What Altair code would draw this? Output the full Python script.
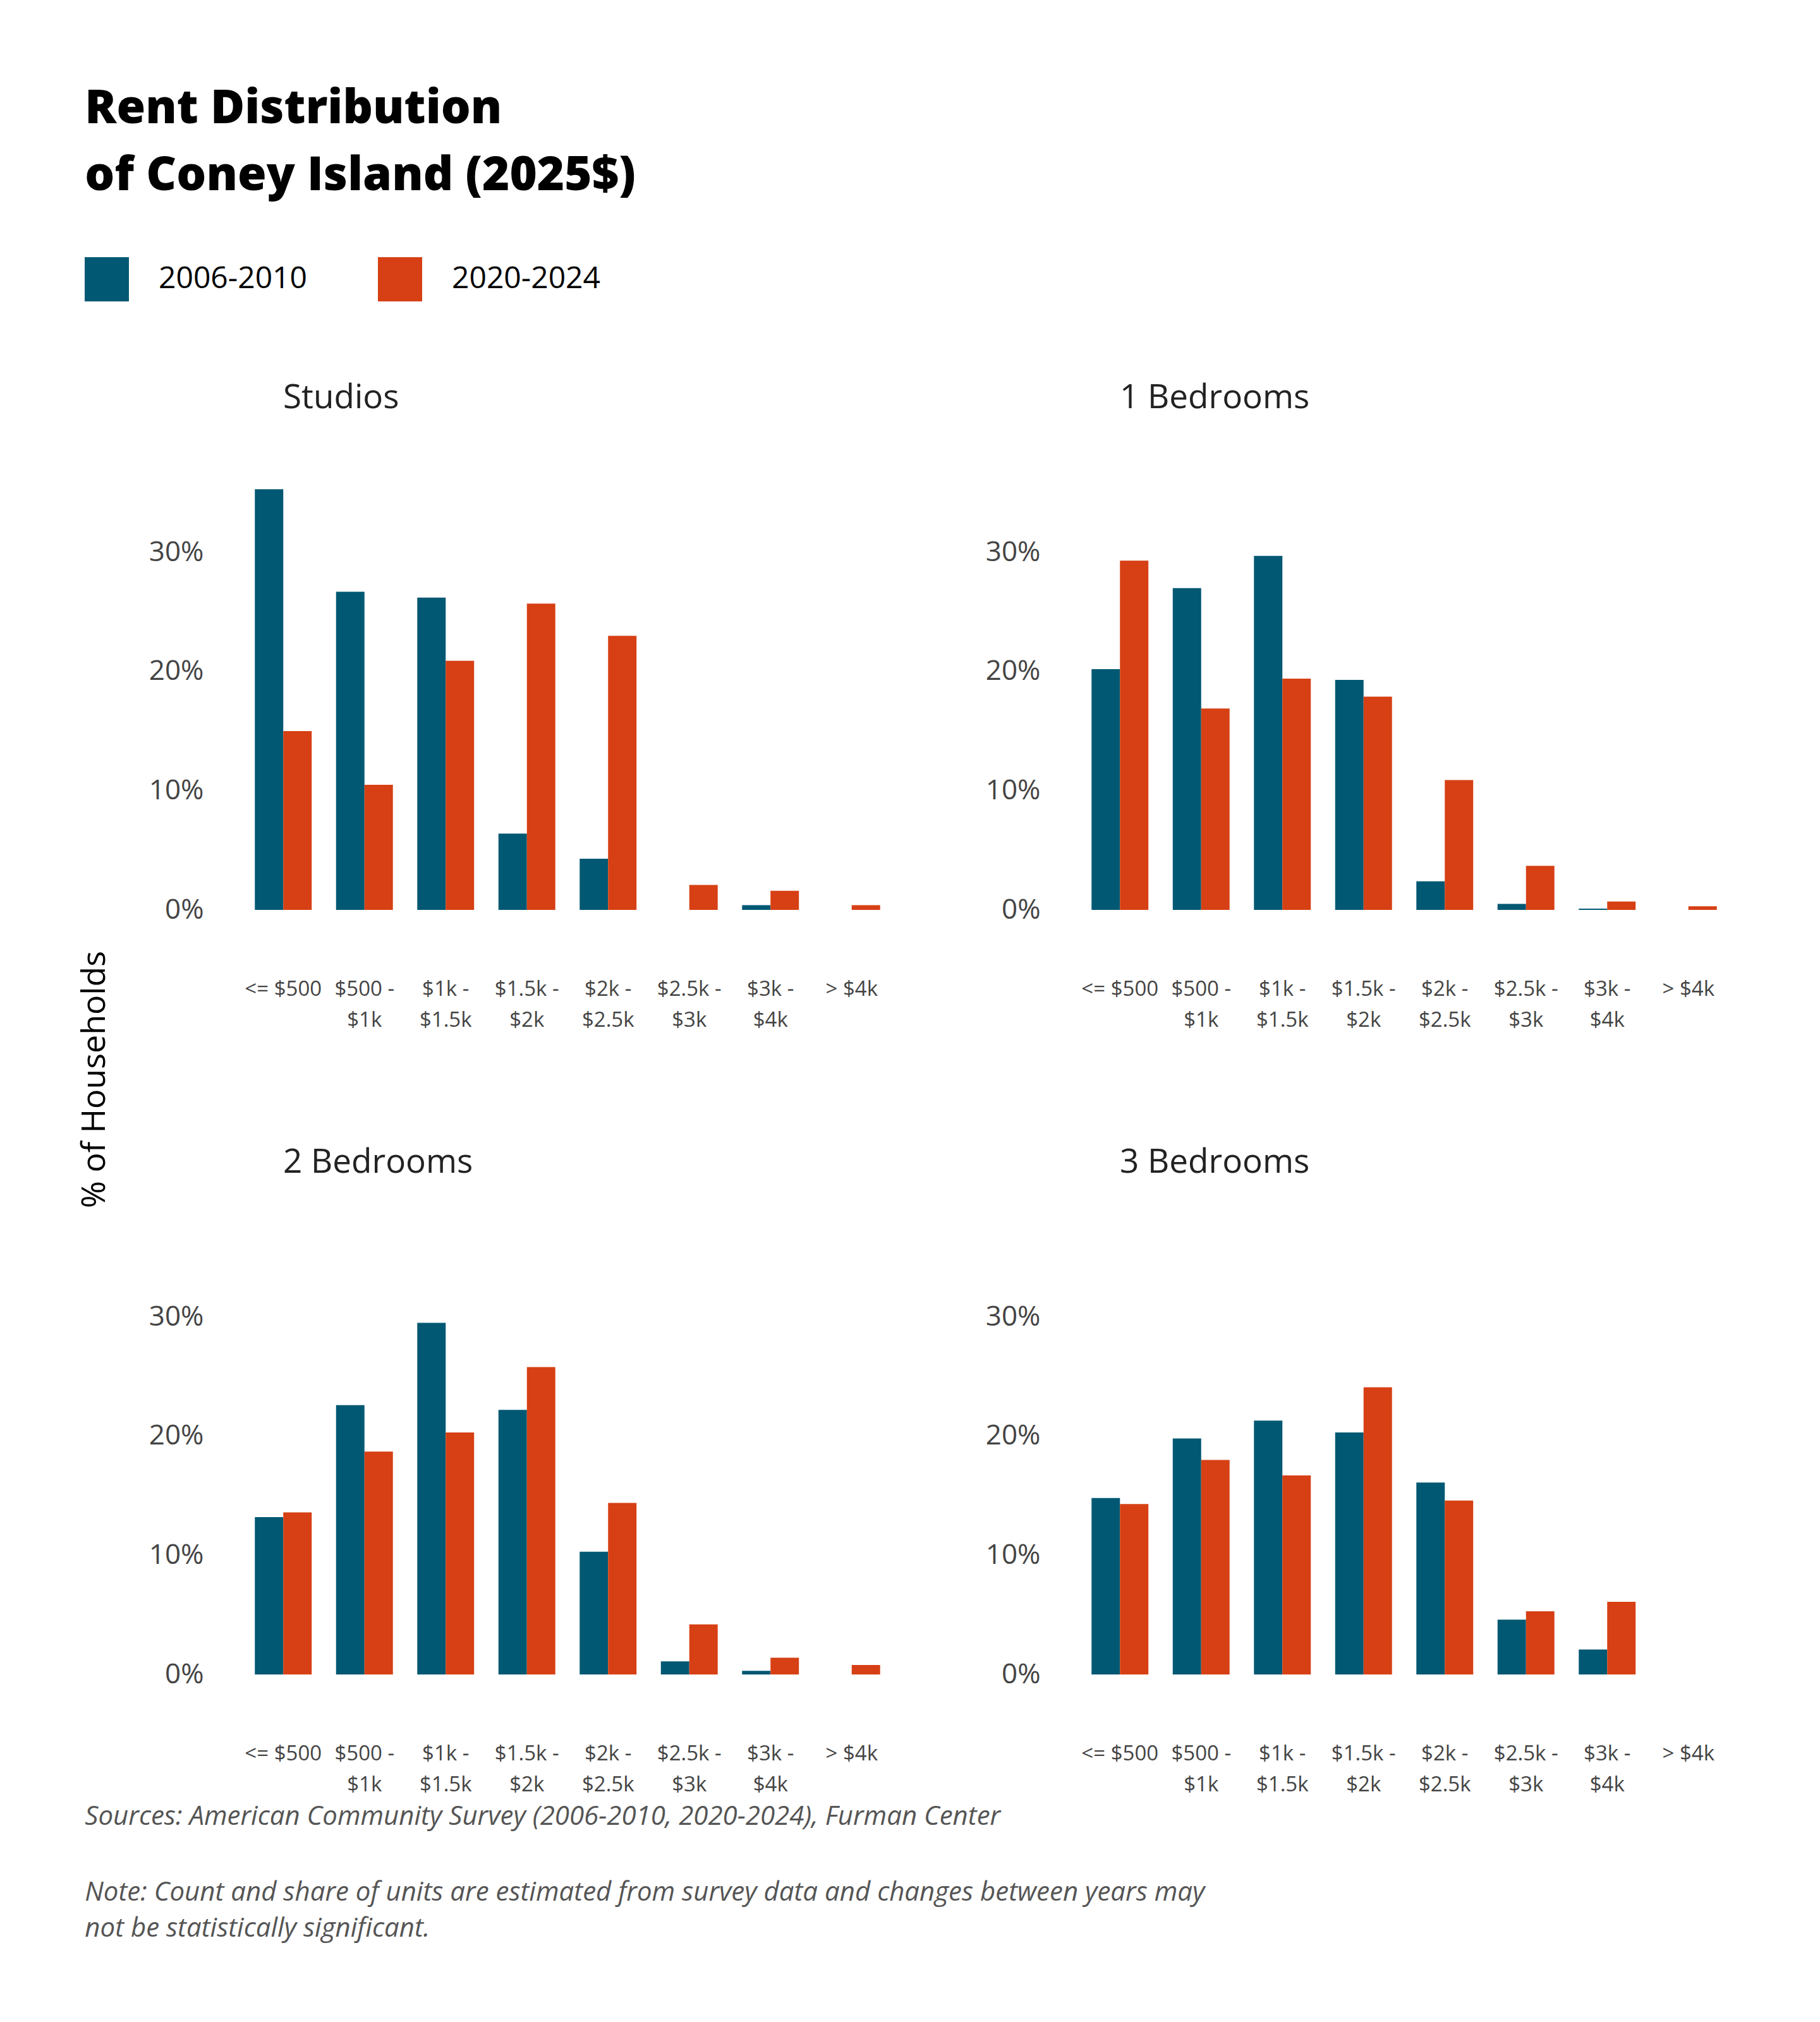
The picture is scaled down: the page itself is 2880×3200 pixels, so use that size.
import altair as alt
import pandas as pd

bins = ["<= $500", "$500 - $1k", "$1k - $1.5k", "$1.5k - $2k", "$2k - $2.5k",
        "$2.5k - $3k", "$3k - $4k", "> $4k"]
periods = ["2006-2010", "2020-2024"]
unit_types = ["Studios", "1 Bedrooms", "2 Bedrooms", "3 Bedrooms"]

studios_2006 = [35.3, 26.7, 26.2, 6.4, 4.3, 0.0, 0.4, 0.0]
studios_2020 = [15.0, 10.5, 20.9, 25.7, 23.0, 2.1, 1.6, 0.4]
br1_2006 = [20.2, 27.0, 29.7, 19.3, 2.4, 0.5, 0.1, 0.0]
br1_2020 = [29.3, 16.9, 19.4, 17.9, 10.9, 3.7, 0.7, 0.3]
br2_2006 = [13.2, 22.6, 29.5, 22.2, 10.3, 1.1, 0.3, 0.0]
br2_2020 = [13.6, 18.7, 20.3, 25.8, 14.4, 4.2, 1.4, 0.8]
br3_2006 = [14.8, 19.8, 21.3, 20.3, 16.1, 4.6, 2.1, 0.0]
br3_2020 = [14.3, 18.0, 16.7, 24.1, 14.6, 5.3, 6.1, 0.0]

y_ticks = [0, 10, 20, 30]
title_lines = ["Rent Distribution", "of Coney Island (2025$)"]
y_title = "% of Households"
source_line = "Sources: American Community Survey (2006-2010, 2020-2024), Furman Center"
note_lines = [
    "Note: Count and share of units are estimated from survey data and changes between years may",
    "not be statistically significant.",
]

series = {
    "Studios": (studios_2006, studios_2020),
    "1 Bedrooms": (br1_2006, br1_2020),
    "2 Bedrooms": (br2_2006, br2_2020),
    "3 Bedrooms": (br3_2006, br3_2020),
}
rows = []
for t in unit_types:
    a, b = series[t]
    for i, bn in enumerate(bins):
        rows.append({"type": t, "bin": bn, "period": periods[0], "pct": a[i]})
        rows.append({"type": t, "bin": bn, "period": periods[1], "pct": b[i]})
df = pd.DataFrame(rows)

BLUE = "#005873"
ORANGE = "#d64014"
FONT = "Open Sans"
TITLE_FONT = "Open Sans"

label_expr = ("indexof(datum.value, ' - ') > 0 ? "
              "[split(datum.value, ' - ')[0] + ' -', split(datum.value, ' - ')[1]] : datum.value")


def panel(t):
    return alt.Chart(df).transform_filter(alt.datum.type == t).mark_bar().encode(
        x=alt.X("bin:N", sort=bins, title=None,
                scale=alt.Scale(paddingInner=0.3, paddingOuter=0.15),
                axis=alt.Axis(labelAngle=0, labelExpr=label_expr, labelBaseline="middle",
                              labelPadding=125, labelLineHeight=49, labelFontSize=33,
                              labelColor="#444", labelFont=FONT, domain=False, ticks=False,
                              tickSize=0, labelLimit=400)),
        xOffset=alt.XOffset("period:N", sort=periods),
        y=alt.Y("pct:Q", title=None, scale=alt.Scale(domain=[0, 36]),
                axis=alt.Axis(values=y_ticks, labelExpr="datum.value + '%'", grid=False,
                              domain=False, ticks=False, tickSize=0, labelPadding=62,
                              labelFontSize=44, labelColor="#444", labelFont=FONT)),
        color=alt.Color("period:N", scale=alt.Scale(domain=periods, range=[BLUE, ORANGE]),
                        legend=alt.Legend(title=None, orient="none", legendX=-250, legendY=-354,
                                          direction="horizontal", symbolType="square",
                                          symbolSize=4900, symbolStrokeWidth=0,
                                          labelFontSize=48, labelFont=FONT, labelColor="black",
                                          labelOffset=47, columnPadding=111, labelLimit=500)),
    ).properties(width=1028, height=679,
                 title=alt.TitleParams(t, anchor="start", frame="group", dx=64, fontSize=53,
                                       offset=104, font=FONT, fontWeight="normal",
                                       color="#222"))


grid = alt.concat(*[panel(t) for t in unit_types], columns=2,
                  spacing={"row": 531, "column": 296}, bounds="flush").properties(
    title=alt.TitleParams(y_title, orient="left", anchor="middle", fontSize=52, font=FONT,
                          fontWeight="normal", color="black", offset=58, dx=14))
mid = alt.vconcat(grid).properties(
    title=alt.TitleParams(source_line, subtitle=note_lines, orient="bottom", anchor="start",
                          fontSize=42, font=FONT, fontStyle="italic", fontWeight="normal",
                          color="#555", offset=14, dx=10,
                          subtitleFont=FONT, subtitleFontSize=42, subtitleFontStyle="italic",
                          subtitleFontWeight="normal", subtitleColor="#555",
                          subtitleLineHeight=57, subtitlePadding=78))
chart = alt.vconcat(mid).properties(
    title=alt.TitleParams(title_lines, anchor="start", fontSize=74, lineHeight=106,
                          font=TITLE_FONT, fontWeight=800, color="black", offset=90, dx=10),
    padding={"left": 116, "top": 128, "right": 60, "bottom": 60},
    background="white",
).configure_view(stroke=None)

chart.save("out.html", embed_options={"renderer": "svg", "actions": False})
